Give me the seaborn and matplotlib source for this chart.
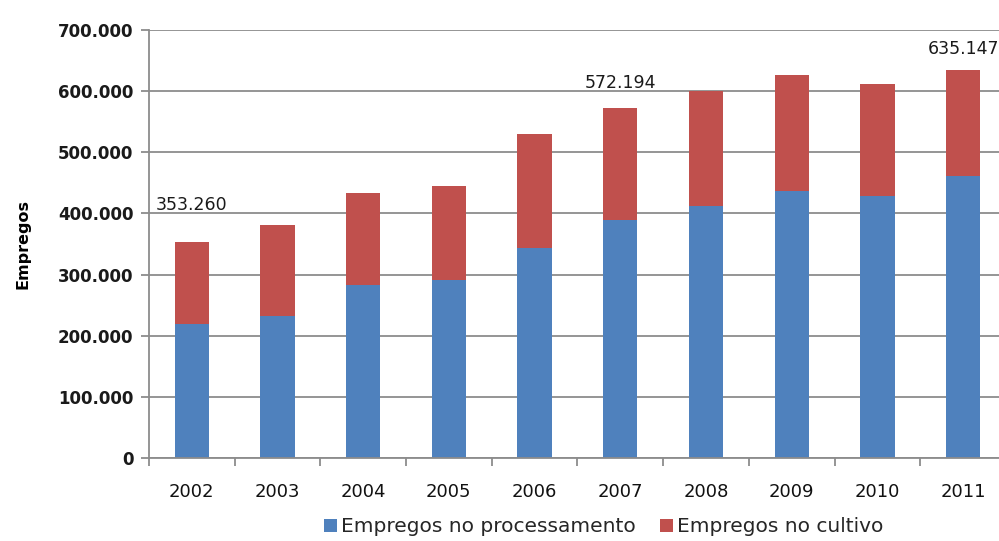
import matplotlib
matplotlib.use("Agg")
import matplotlib.pyplot as plt
import seaborn as sns
import pandas as pd
import numpy as np
from matplotlib.patches import Patch
from matplotlib.ticker import FuncFormatter

years = ["2002", "2003", "2004", "2005", "2006", "2007", "2008", "2009", "2010", "2011"]
processamento = [219000, 232000, 283000, 291000, 343000, 390000, 412000, 436000, 429000, 461000]
cultivo = [134260, 148500, 150000, 153500, 187000, 182194, 188000, 191000, 183500, 174147]
labeled_years = ["2002", "2007", "2011"]
label_offsets_pt = [27, 18, 15]  # vertical offset of each total label (style)

blue = "#4F81BD"
red = "#C0504D"
grid = "#8C8C8C"

df = pd.DataFrame({"ano": years, "proc": processamento, "cult": cultivo})
df["total"] = df["proc"] + df["cult"]

sns.set_style("white")
plt.rcParams["font.family"] = ["DejaVu Sans"]

fig = plt.figure(figsize=(9.99, 5.41), dpi=100)
ax = fig.add_axes([0.149, 0.1534, 0.858, 0.791])

sns.barplot(data=df, x="ano", y="total", color=red, width=0.40, ax=ax,
            saturation=1, linewidth=0)
sns.barplot(data=df, x="ano", y="proc", color=blue, width=0.40, ax=ax,
            saturation=1, linewidth=0)

ax.set_ylim(0, 700000)
ax.set_xlim(-0.5, 9.5)
ax.set_yticks(np.arange(0, 700001, 100000))
ax.yaxis.set_major_formatter(FuncFormatter(lambda v, p: f"{int(v):,}".replace(",", ".")))
ax.set_axisbelow(True)
ax.yaxis.grid(True, color=grid, linewidth=1.3)
ax.xaxis.grid(False)

for s in ["top", "right"]:
    ax.spines[s].set_visible(False)
for s in ["left", "bottom"]:
    ax.spines[s].set_color(grid)
    ax.spines[s].set_linewidth(1.3)

ax.tick_params(axis="y", which="major", left=True, length=6, color=grid, width=1.3,
               labelsize=12, labelcolor="#1a1a1a", pad=5)
for t in ax.get_yticklabels():
    t.set_fontweight("bold")
ax.tick_params(axis="x", which="major", bottom=True, length=0, labelsize=13,
               labelcolor="#111111", pad=18)
ax.set_xticks(np.arange(-0.5, 10, 1), minor=True)
ax.tick_params(axis="x", which="minor", bottom=True, length=6, color=grid, width=1.3,
               direction="out")

ax.set_xlabel("")
ax.set_ylabel("Empregos", fontsize=11.5, fontweight="bold", labelpad=20, color="#000000")

k = 0
for i, row in df.iterrows():
    if row["ano"] in labeled_years:
        val = row["total"]
        txt = f"{int(round(val)):,}".replace(",", ".")
        ax.annotate(txt, (i, val), xytext=(0, label_offsets_pt[k]), textcoords="offset points",
                    ha="center", va="center", fontsize=12.5, color="#1a1a1a",
                    annotation_clip=False)
        k += 1

handles = [Patch(facecolor=blue, edgecolor="none"), Patch(facecolor=red, edgecolor="none")]
fig.legend(handles, ["Empregos no processamento", "Empregos no cultivo"],
           loc="lower center", bbox_to_anchor=(0.604, -0.025), ncol=2, frameon=False,
           fontsize=14.5, handlelength=0.65, handleheight=0.65, handletextpad=0.2,
           columnspacing=1.2)

fig.savefig("out.png", dpi=100)
